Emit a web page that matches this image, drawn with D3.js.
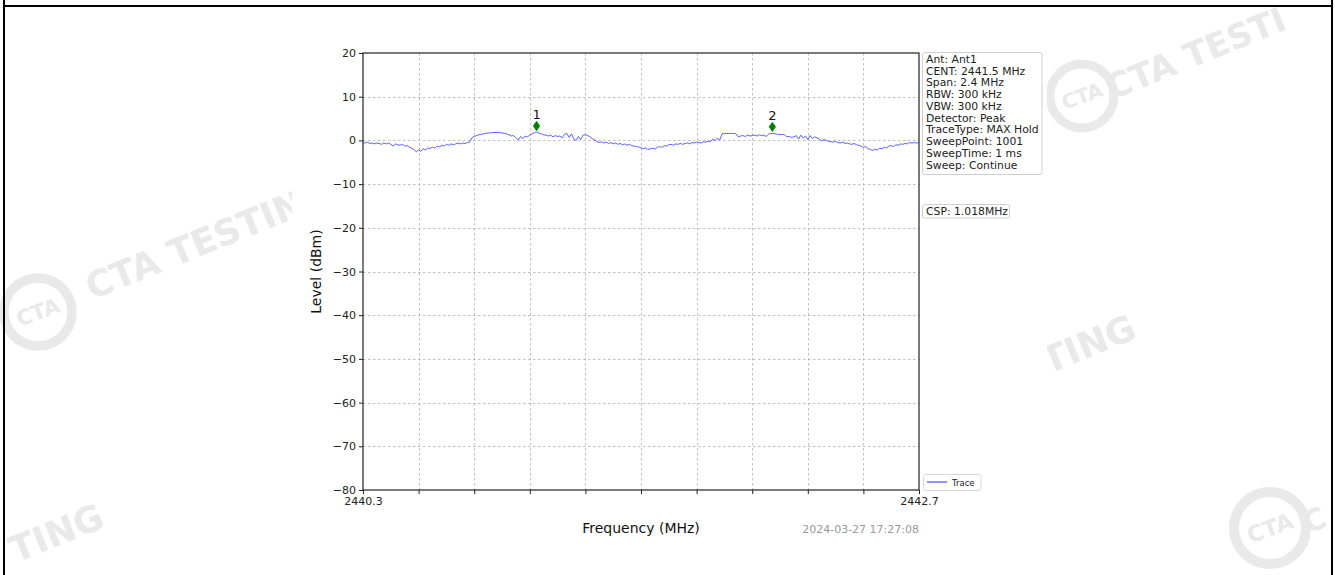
<!DOCTYPE html>
<html>
<head>
<meta charset="utf-8">
<script src="https://cdn.jsdelivr.net/npm/d3@7"></script>
<style>
  html, body { margin: 0; padding: 0; background: #ffffff; }
  svg { display: block; font-family: "DejaVu Sans", sans-serif; }
</style>
</head>
<body>
<svg id="chart" width="1335" height="575"></svg>
<script>
// ---------------- data ----------------
const freqStart = 2440.3;
const freqStop = 2442.7;
const traceStep = 0.01; // MHz between plotted trace samples
const xTickValues = [2440.3, 2440.54, 2440.78, 2441.02, 2441.26, 2441.5, 2441.74, 2441.98, 2442.22, 2442.46, 2442.7];
const xTickLabels = ["2440.3", "", "", "", "", "", "", "", "", "", "2442.7"];
const yTickValues = [20, 10, 0, -10, -20, -30, -40, -50, -60, -70, -80];
const traceLevels = [
  -0.5,-0.6,-0.4,-0.7,-0.6,-0.8,-0.6,-0.7,-0.9,-0.6,-0.8,-0.6,-0.9,-1.3,-0.8,-1.0,-1.1,-0.9,-1.3,-1.2,
  -1.5,-1.8,-2.1,-2.6,-2.2,-2.5,-1.9,-2.2,-1.7,-1.9,-1.5,-1.8,-1.3,-1.5,-1.1,-1.3,-0.9,-1.1,-0.8,-1.0,
  -0.8,-0.6,-0.8,-0.6,-0.7,-0.5,-0.4,0.6,0.9,1.1,1.3,1.4,1.5,1.6,1.7,1.7,1.8,1.8,1.8,1.8,
  1.7,1.6,1.5,1.3,1.0,1.1,0.6,0.1,0.9,0.4,1.0,0.8,1.2,1.5,1.8,1.9,1.7,1.5,1.3,1.2,
  1.0,1.2,0.8,1.1,0.9,1.0,0.6,1.4,1.6,0.7,1.5,0.3,0.0,0.9,0.2,1.2,1.3,1.1,0.8,0.4,
  0.1,-0.3,-0.5,-0.3,-0.6,-0.4,-0.7,-0.5,-0.8,-0.6,-0.9,-0.7,-1.0,-0.8,-1.1,-0.9,-1.2,-1.3,-1.4,-1.5,
  -1.7,-1.9,-1.7,-2.1,-1.9,-1.8,-2.0,-1.6,-1.4,-1.6,-1.2,-1.3,-1.0,-0.9,-1.1,-0.8,-0.9,-0.7,-0.9,-0.7,
  -0.6,-0.8,-0.5,-0.6,-0.4,-0.5,-0.6,-0.3,-0.4,-0.2,-0.3,0.3,-0.1,0.5,0.1,1.5,1.6,1.6,1.6,1.6,
  1.6,1.5,0.8,1.0,1.1,0.9,1.2,1.0,1.1,1.2,1.0,1.3,1.1,1.2,0.9,1.4,1.6,1.6,1.5,1.4,
  1.3,1.4,1.3,0.8,0.9,0.7,0.8,1.1,0.3,1.2,0.5,1.0,0.2,1.1,0.4,0.8,0.6,0.3,-0.1,0.2,
  0.0,-0.2,-0.3,-0.4,-0.2,-0.5,-0.6,-0.4,-0.7,-0.6,-0.8,-0.9,-0.7,-1.0,-1.1,-1.3,-1.6,-1.4,-1.9,-2.1,
  -2.3,-2.0,-2.2,-1.8,-1.9,-1.6,-1.7,-1.3,-1.2,-1.4,-1.0,-1.1,-0.8,-0.9,-0.7,-0.8,-0.5,-0.6,-0.5,-0.6,
  -0.5
];
const markerLabels = ["1", "2"];
const markerFreqs = [2441.049, 2442.067];
const markerLevels = [3.3, 3.1];
const infoLines = [
  "Ant: Ant1", "CENT: 2441.5 MHz", "Span: 2.4 MHz", "RBW: 300 kHz", "VBW: 300 kHz",
  "Detector: Peak", "TraceType: MAX Hold", "SweepPoint: 1001", "SweepTime: 1 ms", "Sweep: Continue"
];
const cspText = "CSP: 1.018MHz";
const legendText = "Trace";
const timestampText = "2024-03-27 17:27:08";
const xLabel = "Frequency (MHz)";
const yLabel = "Level (dBm)";

// ---------------- drawing ----------------
const svg = d3.select("#chart");
const W = 1335, H = 575;

// watermarks (behind the chart image)
const wmColor = "#e9e9e9";
const wm = svg.append("g").attr("fill", wmColor).attr("font-weight", "bold");
function wmText(x, y, txt, size) {
  wm.append("text").attr("transform", `translate(${x},${y}) rotate(-22)`)
    .attr("font-size", size).text(txt);
}
function wmLogo(cx, cy, r) {
  const g = wm.append("g").attr("transform", `translate(${cx},${cy})`);
  g.append("circle").attr("r", r).attr("fill", "none").attr("stroke", wmColor).attr("stroke-width", r * 0.28);
  g.append("text").attr("text-anchor", "middle").attr("y", r * 0.22).attr("font-size", r * 0.62)
    .attr("transform", "rotate(-20)").text("CTA");
}
wmLogo(38, 312, 34);
wmText(92, 300, "CTA TESTIN", 36);
wmLogo(1082, 96, 32);
wmText(1112, 100, "CTA TESTI", 34);
wmText(1048, 374, "TING", 36);
wmText(16, 563, "TING", 36);
wmLogo(1270, 528, 36);
wmText(1308, 534, "C", 30);

// chart image background (covers watermarks)
svg.append("rect").attr("x", 292).attr("y", 7).attr("width", 755).attr("height", H - 7).attr("fill", "#ffffff");

// page frame
const frame = svg.append("g").attr("stroke", "#000").attr("stroke-width", 2);
frame.append("line").attr("x1", 4).attr("x2", 4).attr("y1", 0).attr("y2", H);
frame.append("line").attr("x1", 1332).attr("x2", 1332).attr("y1", 0).attr("y2", H);
frame.append("line").attr("x1", 4).attr("x2", 1332).attr("y1", 6).attr("y2", 6);

// plot area
const L = 363, R = 919, T = 53, B = 490;
const x = d3.scaleLinear().domain([freqStart, freqStop]).range([L, R]);
const y = d3.scaleLinear().domain([-80, 20]).range([B, T]);

// grid
const grid = svg.append("g").attr("stroke", "#b0b0b0").attr("stroke-width", 0.8).attr("stroke-dasharray", "2.5,2.5");
grid.selectAll(".gx").data(xTickValues.slice(1, -1)).enter().append("line")
  .attr("x1", d => Math.round(x(d)) + 0.5).attr("x2", d => Math.round(x(d)) + 0.5).attr("y1", T).attr("y2", B);
grid.selectAll(".gy").data(yTickValues.slice(1, -1)).enter().append("line")
  .attr("y1", d => Math.round(y(d)) + 0.5).attr("y2", d => Math.round(y(d)) + 0.5).attr("x1", L).attr("x2", R);

// trace
const traceData = traceLevels.map((v, i) => [freqStart + i * traceStep, v]);
const line = d3.line().x(d => x(d[0])).y(d => y(d[1]));
svg.append("path").datum(traceData).attr("d", line).attr("fill", "none")
  .attr("stroke", "#4d4dff").attr("stroke-width", 0.9).attr("stroke-linejoin", "round");

// markers (thin diamonds)
markerFreqs.forEach((f, i) => {
  const cx = x(f), cy = y(markerLevels[i]);
  svg.append("path").attr("d", `M${cx},${cy - 5.2}L${cx + 3.6},${cy}L${cx},${cy + 5.2}L${cx - 3.6},${cy}Z`)
    .attr("fill", "#008000");
  svg.append("text").attr("x", cx).attr("y", cy - 7).attr("text-anchor", "middle")
    .attr("font-size", 13).attr("fill", "#111").text(markerLabels[i]);
});

// axes
const xAxis = d3.axisBottom(x).tickValues(xTickValues).tickSize(4).tickPadding(3)
  .tickFormat((d, i) => xTickLabels[i]);
const gx = svg.append("g").attr("transform", `translate(0,${B})`).call(xAxis);
const yAxis = d3.axisLeft(y).tickValues(yTickValues).tickSize(4).tickPadding(3)
  .tickFormat(d => String(d).replace("-", "\u2212"));
const gy = svg.append("g").attr("transform", `translate(${L},0)`).call(yAxis);
[gx, gy].forEach(g => {
  g.selectAll("text").attr("font-size", 11).attr("font-family", "DejaVu Sans").attr("fill", "#222");
  g.selectAll("line").attr("stroke", "#222");
  g.select(".domain").remove();
});
// box spines
svg.append("rect").attr("x", L).attr("y", T).attr("width", R - L).attr("height", B - T)
  .attr("fill", "none").attr("stroke", "#222").attr("stroke-width", 1.2);

// axis labels
svg.append("text").attr("x", (L + R) / 2).attr("y", 533).attr("text-anchor", "middle")
  .attr("font-size", 14).attr("fill", "#111").text(xLabel);
svg.append("text").attr("transform", `translate(321,${(T + B) / 2}) rotate(-90)`).attr("text-anchor", "middle")
  .attr("font-size", 14).attr("fill", "#111").text(yLabel);
svg.append("text").attr("x", R).attr("y", 533).attr("text-anchor", "end")
  .attr("font-size", 11).attr("fill", "#999").text(timestampText);

// info box
svg.append("rect").attr("x", 922.5).attr("y", 52.5).attr("width", 119.5).attr("height", 122)
  .attr("rx", 2).attr("fill", "#fff").attr("stroke", "#cfcfcf");
svg.append("g").selectAll("text").data(infoLines).enter().append("text")
  .attr("x", 926).attr("y", (d, i) => 63 + i * 11.74).attr("font-size", 10.8).attr("fill", "#222").text(d => d);

// CSP box
svg.append("rect").attr("x", 922.5).attr("y", 204.5).attr("width", 87).attr("height", 13.5)
  .attr("rx", 2).attr("fill", "#fff").attr("stroke", "#cfcfcf");
svg.append("text").attr("x", 926).attr("y", 215).attr("font-size", 10.8).attr("fill", "#222").text(cspText);

// legend
svg.append("rect").attr("x", 923.5).attr("y", 474.5).attr("width", 57.5).attr("height", 16)
  .attr("rx", 2).attr("fill", "#fff").attr("stroke", "#d8d8d8");
svg.append("line").attr("x1", 927).attr("x2", 947).attr("y1", 482).attr("y2", 482)
  .attr("stroke", "#4d4dff").attr("stroke-width", 1.2);
svg.append("text").attr("x", 952).attr("y", 485.5).attr("font-size", 8.5).attr("fill", "#222").text(legendText);
</script>
</body>
</html>
